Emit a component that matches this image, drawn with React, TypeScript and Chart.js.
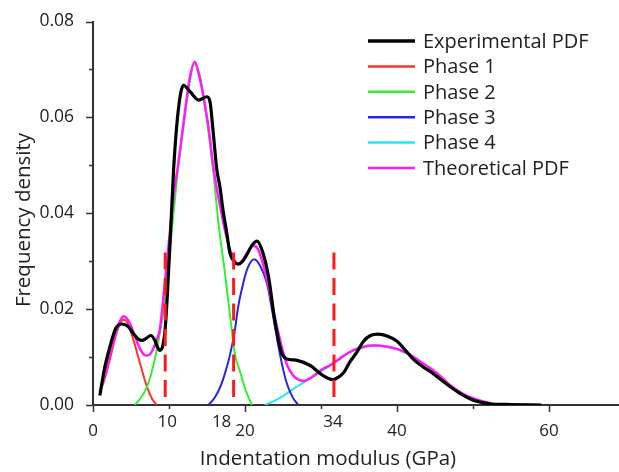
import React, { useEffect, useRef } from "react";
import { Chart, registerables } from "chart.js";

Chart.register(...registerables);

// ---- Data ----
const expX = [0.9, 1.5, 2.2, 3.0, 3.8, 4.6, 5.4, 6.0, 6.5, 7.0, 7.6, 8.1, 8.5, 8.8, 9.2, 9.5, 9.8, 10.2, 10.6, 11.2, 11.9, 12.8, 13.9, 15.0, 15.4, 15.8, 16.3, 16.7, 17.1, 17.6, 18.0, 18.6, 19.1, 19.7, 20.3, 20.9, 21.6, 22.3, 23.1, 23.9, 24.8, 25.5, 26.5, 27.3, 28.1, 28.8, 29.4, 30.2, 30.9, 31.6, 32.3, 33.0, 33.8, 34.7, 35.6, 36.5, 37.5, 38.7, 40.0, 41.0, 42.0, 43.3, 44.8, 46.0, 47.0, 48.5, 50.0, 51.3, 52.6, 55.0, 59.0];
const expY = [0.002, 0.0075, 0.012, 0.016, 0.0169, 0.0164, 0.0147, 0.0137, 0.0135, 0.0139, 0.0145, 0.0136, 0.012, 0.0114, 0.0125, 0.016, 0.0235, 0.0359, 0.049, 0.0612, 0.0667, 0.0653, 0.0636, 0.0643, 0.0632, 0.0571, 0.049, 0.0455, 0.0407, 0.0359, 0.0318, 0.0298, 0.0294, 0.03, 0.0315, 0.0333, 0.0342, 0.032, 0.0267, 0.0178, 0.011, 0.0096, 0.0094, 0.0091, 0.0086, 0.008, 0.0072, 0.0062, 0.0056, 0.0053, 0.0058, 0.0068, 0.009, 0.011, 0.0133, 0.0145, 0.0148, 0.0144, 0.0133, 0.0116, 0.0098, 0.0081, 0.0065, 0.005, 0.0038, 0.0022, 0.001, 0.0005, 0.0002, 0.0001, 0.0];

const theoX = [0.9, 1.6, 2.3, 3.0, 3.5, 4.0, 4.5, 5.0, 5.6, 6.2, 6.7, 7.1, 7.6, 8.0, 8.4, 8.8, 9.3, 9.8, 10.3, 10.7, 11.1, 11.6, 12.1, 12.7, 13.4, 14.0, 14.5, 15.2, 15.8, 16.3, 16.9, 17.5, 18.0, 18.6, 19.1, 19.7, 20.3, 21.1, 21.7, 22.3, 22.9, 23.9, 24.8, 25.5, 26.2, 26.8, 27.7, 28.5, 29.3, 30.2, 31.2, 32.3, 33.5, 34.5, 35.5, 36.5, 37.3, 38.5, 39.8, 40.8, 41.7, 43.3, 44.8, 46.0, 47.0, 48.5, 50.0, 51.2, 52.2];
const theoY = [0.0027, 0.0065, 0.011, 0.015, 0.0173, 0.0185, 0.018, 0.0165, 0.014, 0.0117, 0.0105, 0.0103, 0.0108, 0.012, 0.0136, 0.0158, 0.023, 0.031, 0.039, 0.045, 0.049, 0.055, 0.0612, 0.068, 0.0716, 0.0685, 0.0646, 0.0578, 0.05, 0.045, 0.04, 0.0355, 0.0325, 0.0302, 0.0294, 0.0302, 0.0318, 0.0332, 0.0325, 0.0298, 0.026, 0.0185, 0.0123, 0.0085, 0.0064, 0.0055, 0.005, 0.0055, 0.0064, 0.0075, 0.0083, 0.0095, 0.0108, 0.0116, 0.0121, 0.0124, 0.0124, 0.0122, 0.0118, 0.0112, 0.0105, 0.0088, 0.0072, 0.0056, 0.0041, 0.0025, 0.0014, 0.0008, 0.0004];

const phase1X = [0.9, 1.6, 2.3, 3.0, 3.5, 4.0, 4.5, 5.3, 6.2, 7.1, 7.8, 8.4];
const phase1Y = [0.0026, 0.0058, 0.01, 0.0145, 0.0168, 0.0178, 0.0172, 0.0137, 0.0086, 0.0038, 0.0012, 0.0];

const phase2X = [5.5, 6.3, 7.1, 7.9, 8.6, 9.2, 9.8, 10.4, 11.1, 11.8, 12.5, 13.3, 14.0, 14.6, 15.2, 15.8, 16.5, 17.4, 18.0, 18.7, 19.3, 20.1, 20.9];
const phase2Y = [0.0, 0.0015, 0.0038, 0.008, 0.0133, 0.019, 0.027, 0.037, 0.048, 0.057, 0.065, 0.0712, 0.069, 0.064, 0.057, 0.049, 0.038, 0.027, 0.019, 0.0103, 0.0072, 0.003, 0.0];

const phase3X = [15.2, 16.0, 16.8, 17.4, 18.0, 18.6, 19.1, 19.7, 20.3, 21.2, 22.0, 22.9, 23.7, 24.6, 25.4, 26.2, 27.0];
const phase3Y = [0.0, 0.0015, 0.004, 0.0068, 0.0103, 0.015, 0.0205, 0.025, 0.0284, 0.0304, 0.029, 0.0253, 0.0185, 0.0105, 0.005, 0.0018, 0.0];

const phase4X = [22.6, 23.5, 24.5, 25.5, 26.5, 27.5, 28.5, 29.3, 30.2, 31.2, 32.3, 33.5, 34.5, 35.5, 36.5, 37.3, 38.5, 39.8, 40.8, 41.7, 43.3, 44.8, 46.0, 47.0, 48.5, 50.0, 51.2, 52.2];
const phase4Y = [0.0, 0.0006, 0.0014, 0.0024, 0.0035, 0.0045, 0.0055, 0.0062, 0.0072, 0.0082, 0.0094, 0.0107, 0.0115, 0.012, 0.0123, 0.0124, 0.0122, 0.0117, 0.0111, 0.0104, 0.0087, 0.0071, 0.0055, 0.004, 0.0024, 0.0013, 0.0007, 0.0003];

const cutX = [9.5, 18.5, 31.7];
const cutTop = 0.0318;
const cutLabels = ["10", "18", "34"];

const legendLabels = ["Experimental PDF", "Phase 1", "Phase 2", "Phase 3", "Phase 4", "Theoretical PDF"];
const xTitle = "Indentation modulus (GPa)";
const yTitle = "Frequency density";

// ---- Styles ----
const FONT = "'Open Sans', 'DejaVu Sans', sans-serif";
const TEXT = "#222222";
const AXIS = "#333333";
const C_EXP = "#000000";
const C_P1 = "#ff3030";
const C_P2 = "#33ee33";
const C_P3 = "#2626e0";
const C_P4 = "#1ee6f8";
const C_THEO = "#ff1aff";
const C_CUT = "#ff1a1a";

const pts = (xs: number[], ys: number[]) => xs.map((x, i) => ({ x, y: ys[i] }));

const decorPlugin = {
  id: "decor",
  afterDraw(chart: any) {
    const ctx = chart.ctx as CanvasRenderingContext2D;
    const xs = chart.scales.x;
    const ys = chart.scales.y;
    const { left, bottom } = chart.chartArea;
    ctx.save();
    // tick marks
    ctx.strokeStyle = AXIS;
    ctx.lineWidth = 1.5;
    for (const t of xs.ticks) {
      const px = Math.round(xs.getPixelForValue(t.value)) + 0.5;
      const major = Math.round(t.value) % 20 === 0;
      ctx.beginPath();
      ctx.moveTo(px, bottom);
      ctx.lineTo(px, bottom + (major ? 7 : 4));
      ctx.stroke();
    }
    for (const t of ys.ticks) {
      const py = Math.round(ys.getPixelForValue(t.value)) + 0.5;
      const major = Math.round(t.value * 100) % 2 === 0;
      ctx.beginPath();
      ctx.moveTo(left, py);
      ctx.lineTo(left - (major ? 7 : 4), py);
      ctx.stroke();
    }
    // cut labels
    const labelShift = [2, -12, -1];
    ctx.fillStyle = TEXT;
    ctx.font = `17px ${FONT}`;
    ctx.textAlign = "center";
    ctx.textBaseline = "middle";
    cutX.forEach((v, i) => {
      ctx.fillText(cutLabels[i], xs.getPixelForValue(v) + labelShift[i], bottom + 17);
    });
    // axis titles
    ctx.font = `20.5px ${FONT}`;
    ctx.textBaseline = "alphabetic";
    ctx.fillText(xTitle, 328, 465);
    ctx.save();
    ctx.translate(30, 220);
    ctx.rotate(-Math.PI / 2);
    ctx.fillText(yTitle, 0, 0);
    ctx.restore();
    // legend
    const colors = [C_EXP, C_P1, C_P2, C_P3, C_P4, C_THEO];
    const widths = [3.5, 2.5, 2.5, 2.5, 2.5, 2.5];
    ctx.font = `20px ${FONT}`;
    ctx.textAlign = "left";
    ctx.textBaseline = "middle";
    legendLabels.forEach((lab, i) => {
      const y = 41 + i * 25.4;
      ctx.strokeStyle = colors[i];
      ctx.lineWidth = widths[i];
      ctx.beginPath();
      ctx.moveTo(368, y);
      ctx.lineTo(415, y);
      ctx.stroke();
      ctx.fillStyle = TEXT;
      ctx.fillText(lab, 423, y + 1);
    });
    ctx.restore();
  },
};

export default function App() {
  const ref = useRef<HTMLCanvasElement | null>(null);
  useEffect(() => {
    if (!ref.current) return;
    const line = (data: any[], color: string, width: number, extra: any = {}) => ({
      data,
      borderColor: color,
      backgroundColor: color,
      borderWidth: width,
      pointRadius: 0,
      fill: false,
      cubicInterpolationMode: "monotone",
      ...extra,
    });
    const cutSets = cutX.map((v) =>
      line(
        [
          { x: v, y: cutTop },
          { x: v, y: 0 },
        ],
        C_CUT,
        3,
        { borderDash: [17, 8.5], cubicInterpolationMode: "default", tension: 0 }
      )
    );
    const chart = new Chart(ref.current, {
      type: "line",
      data: {
        datasets: [
          ...cutSets,
          line(pts(expX, expY), C_EXP, 3.2),
          line(pts(theoX, theoY), C_THEO, 2.5),
          line(pts(phase2X, phase2Y), C_P2, 2),
          line(pts(phase3X, phase3Y), C_P3, 2),
          line(pts(phase4X, phase4Y), C_P4, 2),
          line(pts(phase1X, phase1Y), C_P1, 2),
        ] as any,
      },
      options: {
        animation: false,
        responsive: false,
        events: [],
        layout: { padding: { top: 15, left: 0, right: 0, bottom: 0 } },
        plugins: { legend: { display: false }, tooltip: { enabled: false } },
        scales: {
          x: {
            type: "linear",
            min: 0,
            max: 69.2,
            afterFit: (s: any) => {
              s.height = 67;
            },
            grid: { display: false },
            border: { display: true, color: AXIS, width: 2 },
            ticks: {
              stepSize: 10,
              includeBounds: false,
              autoSkip: false,
              maxRotation: 0,
              padding: 8,
              color: TEXT,
              font: { family: FONT, size: 17 },
              callback: (v: any) => (Math.round(Number(v)) % 20 === 0 ? String(v) : ""),
            },
          },
          y: {
            type: "linear",
            min: 0,
            max: 0.08,
            afterFit: (s: any) => {
              s.width = 93;
            },
            grid: { display: false },
            border: { display: true, color: AXIS, width: 2 },
            ticks: {
              stepSize: 0.01,
              autoSkip: false,
              padding: 11,
              color: TEXT,
              font: { family: FONT, size: 17.5 },
              callback: (v: any) =>
                Math.round(Number(v) * 100) % 2 === 0 ? Number(v).toFixed(2) : "",
            },
          },
        },
      } as any,
      plugins: [decorPlugin],
    });
    return () => chart.destroy();
  }, []);
  return (
    <div style={{ position: "fixed", left: 0, top: 0, width: 619, height: 472, background: "#fff" }}>
      <canvas ref={ref} width={619} height={472} style={{ display: "block" }} />
    </div>
  );
}
